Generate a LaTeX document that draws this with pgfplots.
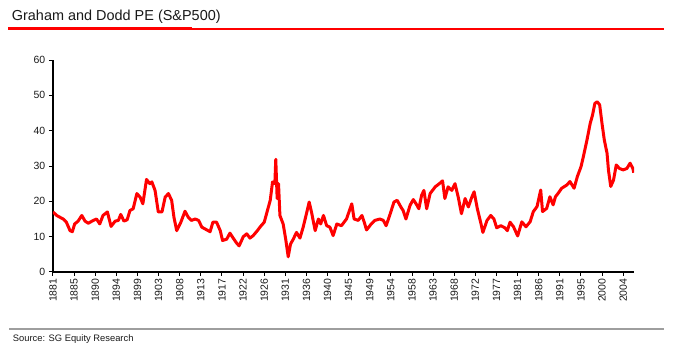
\documentclass[border=0pt]{standalone}
\usepackage{fontspec}
\setmainfont{Liberation Sans}
\usepackage{pgfplots}
\pgfplotsset{compat=1.18}
\definecolor{pure}{RGB}{255,0,0}
\begin{document}
\begin{tikzpicture}
\useasboundingbox (0bp,0bp) rectangle (680bp,362bp);
\node[anchor=base west, inner sep=0pt, font=\fontsize{14.5}{17}\selectfont, text=black!90] at (11.7bp,341.3bp) {Graham and Dodd PE (S\&P500)};
\fill[pure] (8.3bp,332bp) rectangle (191.7bp,335.3bp);
\fill[pure] (191bp,332bp) rectangle (664bp,333.5bp);
\draw[black!38, line width=2bp] (9bp,33bp) -- (664bp,33bp);
\node[anchor=base west, inner sep=0pt, font=\fontsize{9.4}{11}\selectfont, text=black!90] at (12.7bp,21bp) {Source: SG Equity Research};
\begin{axis}[
  at={(53bp,90bp)}, anchor=south west,
  scale only axis, width=581bp, height=212bp,
  xmin=1881, xmax=2007.1, ymin=0, ymax=60,
  axis lines*=left,
  axis line style={black, line width=1.2bp},
  tick align=outside,
  major tick length=4bp,
  tick style={black, line width=1bp},
  ytick={0,10,20,30,40,50,60},
  xtick={1881,1885.5833,1890.1667,1894.75,1899.3333,1903.9167,1908.5,1913.0833,1917.6667,1922.25,1926.8333,1931.4167,1936,1940.5833,1945.1667,1949.75,1954.3333,1958.9167,1963.5,1968.0833,1972.6667,1977.25,1981.8333,1986.4167,1991,1995.5833,2000.1667,2004.75},
  xticklabels={1881,1885,1890,1894,1899,1903,1908,1913,1917,1922,1926,1931,1936,1940,1945,1949,1954,1958,1963,1968,1972,1977,1981,1986,1991,1995,2000,2004},
  /pgf/number format/assume math mode=true,
  ticklabel style={font=\fontsize{10.5}{12}\selectfont, text=black!90},
  xticklabel style={rotate=90, anchor=east, inner sep=2.5bp},
  yticklabel style={inner sep=3.5bp},
]
\addplot[pure, line width=3bp, line join=round] coordinates {
(1881.0,17.0) (1881.8,16.0) (1882.5,15.5) (1883.2,15.0) (1883.9,14.1) (1884.7,11.7) (1885.2,11.4) (1885.7,13.6)
(1886.45,14.4) (1887.25,16.0) (1887.95,14.4) (1888.65,13.8) (1889.75,14.6) (1890.45,15.0) (1891.15,13.6) (1891.85,16.0)
(1892.8,17.0) (1893.6,12.9) (1894.5,14.4) (1895.2,14.6) (1895.7,16.3) (1896.4,14.4) (1897.1,14.8) (1897.7,17.4)
(1898.4,17.9) (1899.2,22.2) (1899.9,21.2) (1900.5,19.3) (1901.3,26.2) (1902.0,25.0) (1902.45,25.5) (1903.15,23.1)
(1903.85,17.0) (1904.65,17.0) (1905.35,21.2) (1906.05,22.2) (1906.75,20.3) (1907.25,15.5) (1907.85,11.7) (1908.75,14.1)
(1909.65,17.2) (1910.35,15.5) (1911.05,14.6) (1911.85,15.0) (1912.6,14.6) (1913.3,12.7) (1914.4,11.9) (1915.1,11.4)
(1915.7,14.1) (1916.5,14.1) (1917.3,11.7) (1917.8,8.9) (1918.7,9.3) (1919.4,11.0) (1920.1,9.6) (1920.9,8.1)
(1921.4,7.4) (1922.3,10.0) (1923.05,10.8) (1923.75,9.6) (1924.45,10.3) (1925.35,11.7) (1926.05,12.9) (1926.85,14.1)
(1927.35,16.5) (1928.15,20.3) (1928.65,25.5) (1929.15,25.0) (1929.35,31.9) (1929.65,20.8) (1929.95,25.0) (1930.25,16.0)
(1930.95,13.6) (1931.55,8.9) (1932.05,4.3) (1932.55,7.9) (1933.15,9.3) (1933.85,11.2) (1934.6,9.6) (1935.3,12.7)
(1936.1,17.0) (1936.6,19.8) (1937.1,17.0) (1937.9,11.7) (1938.6,15.0) (1939.1,13.6) (1939.7,16.0) (1940.4,13.1)
(1941.1,12.7) (1941.8,10.3) (1942.6,13.6) (1943.6,13.1) (1944.7,15.0) (1945.85,19.3) (1946.35,15.0) (1947.25,14.6)
(1948.05,16.0) (1948.55,14.1) (1949.05,11.9) (1949.95,13.4) (1950.85,14.6) (1951.95,15.0) (1952.7,14.6) (1953.3,13.1)
(1954.2,16.5) (1955.0,19.8) (1955.7,20.3) (1956.5,18.4) (1957.0,17.4) (1957.6,15.0) (1958.5,18.9) (1959.2,20.5)
(1959.9,19.1) (1960.4,17.9) (1961.0,21.7) (1961.5,23.1) (1962.1,17.9) (1962.85,22.2) (1963.95,24.1) (1964.85,25.0)
(1965.55,25.8) (1966.05,20.8) (1966.75,24.1) (1967.55,23.1) (1968.25,25.0) (1968.95,21.2) (1969.65,16.5) (1970.45,20.8)
(1971.15,18.4) (1971.9,21.2) (1972.4,22.7) (1973.1,17.9) (1973.9,13.6) (1974.3,11.2) (1975.2,14.6) (1976.0,16.0)
(1976.7,15.0) (1977.3,12.5) (1978.2,13.1) (1979.1,12.5) (1979.6,11.7) (1980.2,14.1) (1980.95,12.8) (1981.85,10.2)
(1982.75,14.2) (1983.65,12.8) (1984.55,14.2) (1985.25,17.1) (1986.05,18.5) (1986.85,23.2) (1987.25,17.1) (1988.15,18.0)
(1988.85,21.3) (1989.55,19.0) (1990.05,21.3) (1990.65,22.3) (1991.4,23.7) (1992.5,24.6) (1993.2,25.6) (1994.1,23.7)
(1994.8,27.0) (1995.6,29.8) (1996.1,32.6) (1996.9,37.4) (1997.6,42.1) (1998.1,44.4) (1998.6,47.7) (1999.1,48.2)
(1999.65,47.3) (2000.15,42.1) (2000.65,37.4) (2001.25,33.6) (2001.55,28.9) (2002.05,24.2) (2002.65,26.0) (2003.25,30.3)
(2003.95,29.3) (2004.75,28.9) (2005.55,29.3) (2006.25,30.8) (2006.85,29.3) (2007.05,28.1)
};
\end{axis}
\end{tikzpicture}
\end{document}
